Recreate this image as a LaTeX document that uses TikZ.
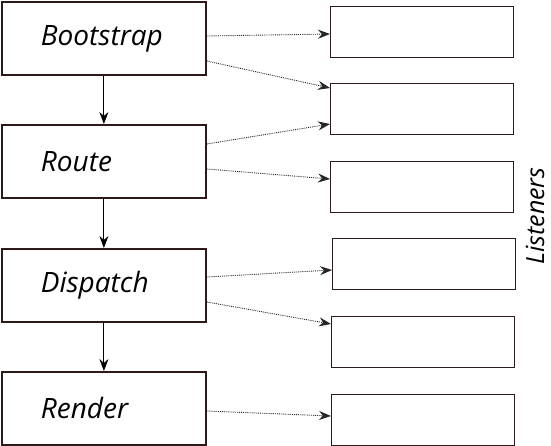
\documentclass[tikz,border=0pt]{standalone}
\usepackage{fontspec}
\setmainfont{Open Sans}
\usetikzlibrary{arrows.meta}
\definecolor{edge}{HTML}{2E1A1A}
\tikzset{
  stage/.style={draw=edge, line width=1.8pt, minimum width=204pt, minimum height=73pt, inner ysep=0pt, inner xsep=39pt, text width=126pt, align=left, anchor=north west, font=\fontsize{28}{32}\itshape\selectfont},
  listener/.style={draw=edge, line width=1.4pt, minimum width=183pt, minimum height=51pt, inner sep=0pt, anchor=north west},
  flow/.style={-{Stealth[length=12pt,width=9pt,inset=4pt]}, line width=0.9pt, black},
  hook/.style={-{Stealth[length=12pt,width=9pt,inset=4pt]}, densely dotted, line width=0.9pt, black!85},
}
\begin{document}
\begin{tikzpicture}[x=1pt,y=-1pt]
\useasboundingbox (0,0) rectangle (551,446);
\node[stage] (boot) at (1,1) {Bootstrap};
\node[stage] (route) at (1,124) {Route};
\node[stage] (disp) at (1,248) {Dispatch};
\node[stage] (rend) at (1,371) {Render};
\node[listener] (l1) at (330,6) {};
\node[listener] (l2) at (330,83) {};
\node[listener] (l3) at (330,161) {};
\node[listener] (l4) at (332,238) {};
\node[listener] (l5) at (331,316) {};
\node[listener] (l6) at (331,394) {};
\node[rotate=90, inner sep=2pt, font=\fontsize{25}{30}\itshape\selectfont] (lis) at (535,216) {Listeners};
\draw[flow] (boot.south) -- (route.north);
\draw[flow] (route.south) -- (disp.north);
\draw[flow] (disp.south) -- (rend.north);
\coordinate (b1) at ([yshift=-35pt]boot.north east);
\coordinate (b2) at ([yshift=-60pt]boot.north east);
\coordinate (r1) at ([yshift=-20pt]route.north east);
\coordinate (r2) at ([yshift=-45pt]route.north east);
\coordinate (d1) at ([yshift=-29pt]disp.north east);
\coordinate (d2) at ([yshift=-54pt]disp.north east);
\coordinate (e1) at ([yshift=-40pt]rend.north east);
\draw[hook] (b1) -- ([yshift=-28pt]l1.north west);
\draw[hook] (b2) -- ([yshift=-5pt]l2.north west);
\draw[hook] (r1) -- ([yshift=-41pt]l2.north west);
\draw[hook] (r2) -- ([yshift=-18pt]l3.north west);
\draw[hook] (d1) -- ([yshift=-32pt]l4.north west);
\draw[hook] (d2) -- ([yshift=-8pt]l5.north west);
\draw[hook] (e1) -- ([yshift=-22pt]l6.north west);
\end{tikzpicture}
\end{document}
